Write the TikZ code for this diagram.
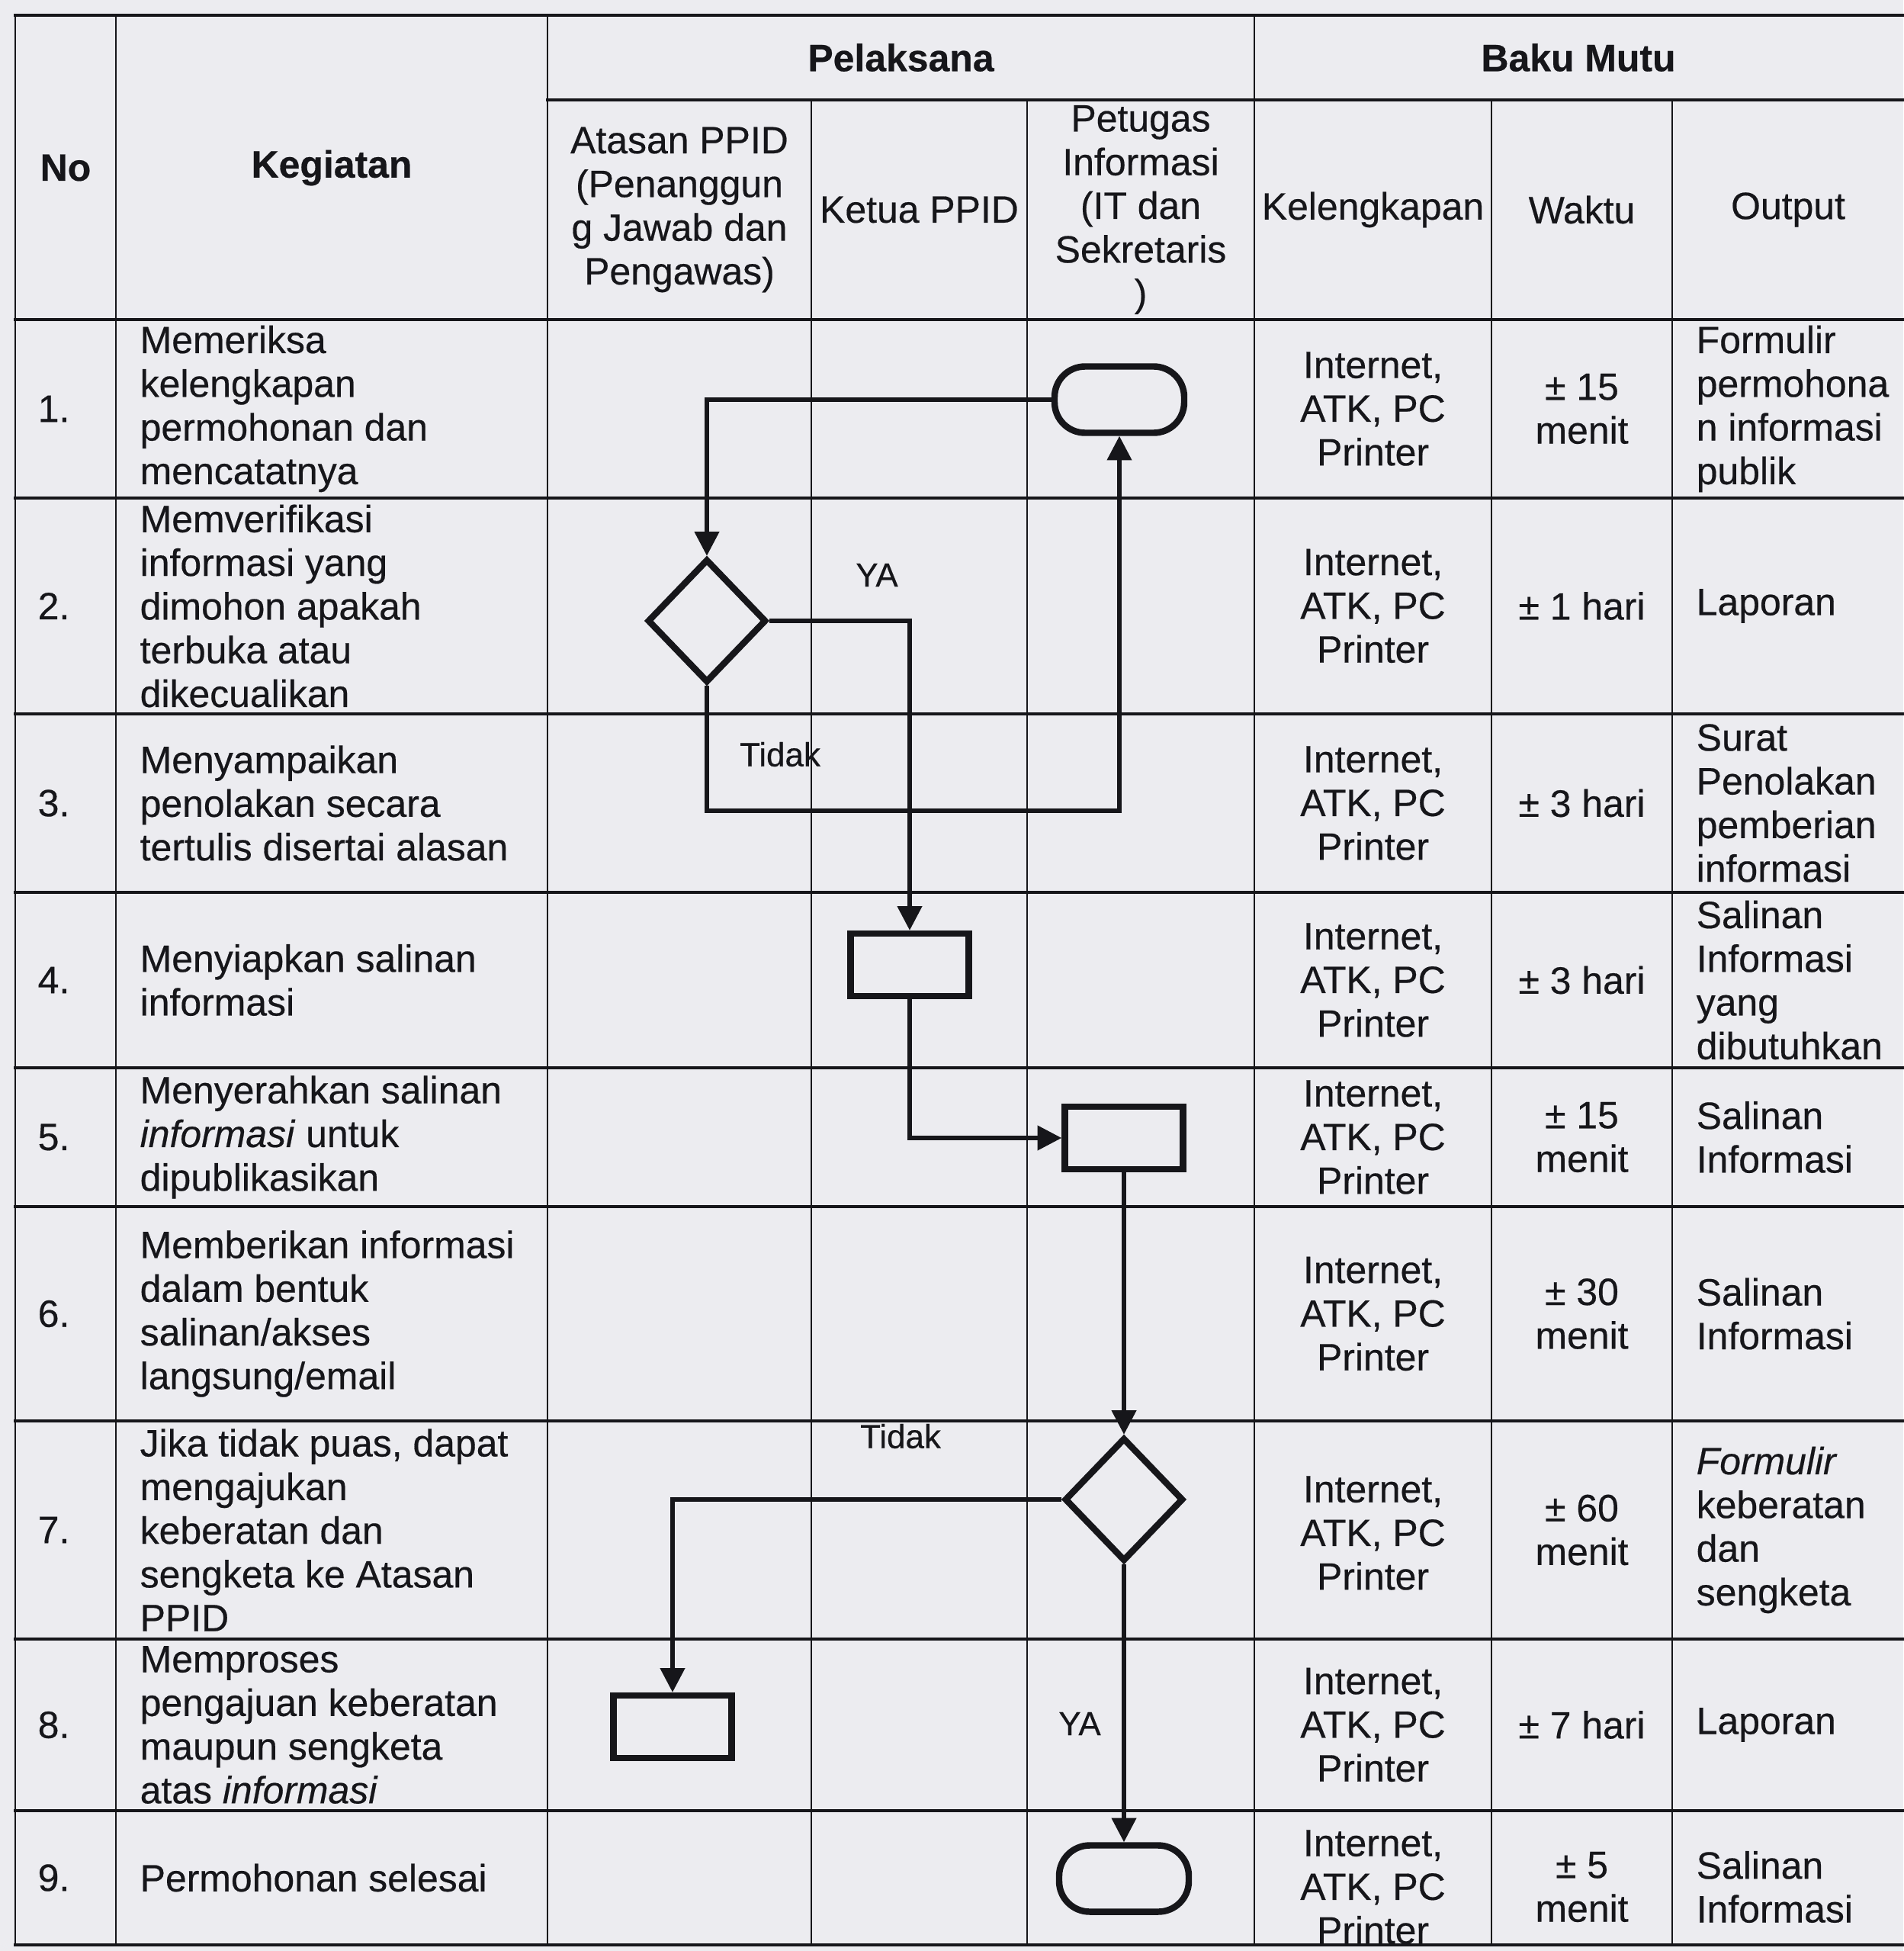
\documentclass[tikz,border=0pt]{standalone}
\usepackage{fontspec}
\setmainfont{Liberation Sans}[FakeBold=0.4]
\usetikzlibrary{arrows.meta,shapes.geometric,positioning}
\definecolor{paper}{RGB}{236,236,240}
\definecolor{ink}{RGB}{22,22,26}

\begin{document}
\begin{tikzpicture}[
  txt/.style={
    font=\fontsize{14.2}{16.3}\selectfont,
    inner sep=0pt,
    text=ink
  },
  hdr/.style={txt,align=center},
  bold/.style={txt,font=\fontsize{14.2}{16.3}\selectfont\bfseries},
  nomor/.style={txt,anchor=west},
  keg/.style={txt,anchor=west,align=left},
  mid/.style={txt,align=center},
  outp/.style={txt,anchor=west,align=left},
  hrule/.style={draw=ink,line width=1.2pt,line cap=rect},
  vrule/.style={draw=ink,line width=.8pt,line cap=rect},
  term/.style={
    draw=ink,
    line width=2.4pt,
    rounded corners=.4cm,
    minimum width=1.7cm,
    minimum height=.87cm
  },
  proc/.style={
    draw=ink,
    line width=2.4pt,
    minimum width=1.55cm,
    minimum height=.82cm
  },
  decide/.style={
    diamond,
    draw=ink,
    line width=2.4pt,
    inner sep=0pt,
    minimum width=1.56cm,
    minimum height=1.62cm
  },
  flow/.style={draw=ink,line width=1.5pt,-{Triangle[length=9pt,width=9pt]}},
  lbl/.style={font=\fontsize{12.5}{15}\selectfont,inner sep=0pt,text=ink}
]
\fill[paper] (0,0) rectangle (24.96,-25.58);
\useasboundingbox (0,0) rectangle (24.96,-25.58);

% table rules
\draw[hrule]
  (0.20,-0.20) -- (24.96,-0.20)
  (7.18,-1.31) -- (24.96,-1.31)
  (0.20,-4.19) -- (24.96,-4.19)
  (0.20,-6.53) -- (24.96,-6.53)
  (0.20,-9.36) -- (24.96,-9.36)
  (0.20,-11.70) -- (24.96,-11.70)
  (0.20,-14.00) -- (24.96,-14.00)
  (0.20,-15.82) -- (24.96,-15.82)
  (0.20,-18.63) -- (24.96,-18.63)
  (0.20,-21.49) -- (24.96,-21.49)
  (0.20,-23.74) -- (24.96,-23.74)
  (0.20,-25.50) -- (24.96,-25.50);
\draw[vrule]
  (0.20,-0.20) -- (0.20,-25.50)
  (1.52,-0.20) -- (1.52,-25.50)
  (7.18,-0.20) -- (7.18,-25.50)
  (10.64,-1.31) -- (10.64,-25.50)
  (13.47,-1.31) -- (13.47,-25.50)
  (16.45,-0.20) -- (16.45,-25.50)
  (19.56,-1.31) -- (19.56,-25.50)
  (21.93,-1.31) -- (21.93,-25.50);

% header
\node[bold] (hno) at (0.86,-2.20) {No};
\node[bold] (hkeg) at (4.35,-2.20) {Kegiatan};
\node[bold] (hpel) at (11.815,-0.755) {Pelaksana};
\node[bold] (hbaku) at (20.70,-0.755) {Baku Mutu};
\node[hdr] (hatasan) at (8.91,-2.75)
  {Atasan PPID\\(Penanggun\\g Jawab dan\\Pengawas)};
\node[hdr] (hketua) at (12.055,-2.75) {Ketua PPID};
\node[hdr] (hpetugas) at (14.96,-2.75)
  {Petugas\\Informasi\\(IT dan\\Sekretaris\\)};
\node[hdr] (hkel) at (18.005,-2.75) {Kelengkapan};
\node[hdr] (hwaktu) at (20.745,-2.75) {Waktu};
\node[hdr] (houtput) at (23.45,-2.75) {Output};

% row 1
\node[nomor] (no1) at (0.49,-5.36) {1.};
\node[keg] (keg1) at (1.83,-5.36)
  {Memeriksa\\kelengkapan\\permohonan dan\\mencatatnya};
\node[mid] (kel1) at (18.005,-5.36) {Internet,\\ATK, PC\\Printer};
\node[mid] (wkt1) at (20.745,-5.36) {± 15\\menit};
\node[outp] (out1) at (22.24,-5.36)
  {Formulir\\permohona\\n informasi\\publik};

% row 2
\node[nomor] (no2) at (0.49,-7.945) {2.};
\node[keg] (keg2) at (1.83,-7.945)
  {Memverifikasi\\informasi yang\\dimohon apakah\\terbuka atau\\dikecualikan};
\node[mid] (kel2) at (18.005,-7.945) {Internet,\\ATK, PC\\Printer};
\node[mid] (wkt2) at (20.745,-7.945) {± 1 hari};
\node[outp] (out2) at (22.24,-7.945) {Laporan};

% row 3
\node[nomor] (no3) at (0.49,-10.53) {3.};
\node[keg] (keg3) at (1.83,-10.53)
  {Menyampaikan\\penolakan secara\\tertulis disertai alasan};
\node[mid] (kel3) at (18.005,-10.53) {Internet,\\ATK, PC\\Printer};
\node[mid] (wkt3) at (20.745,-10.53) {± 3 hari};
\node[outp] (out3) at (22.24,-10.53)
  {Surat\\Penolakan\\pemberian\\informasi};

% row 4
\node[nomor] (no4) at (0.49,-12.85) {4.};
\node[keg] (keg4) at (1.83,-12.85) {Menyiapkan salinan\\informasi};
\node[mid] (kel4) at (18.005,-12.85) {Internet,\\ATK, PC\\Printer};
\node[mid] (wkt4) at (20.745,-12.85) {± 3 hari};
\node[outp] (out4) at (22.24,-12.85)
  {Salinan\\Informasi\\yang\\dibutuhkan};

% row 5
\node[nomor] (no5) at (0.49,-14.91) {5.};
\node[keg] (keg5) at (1.83,-14.91)
  {Menyerahkan salinan\\\textit{informasi} untuk\\dipublikasikan};
\node[mid] (kel5) at (18.005,-14.91) {Internet,\\ATK, PC\\Printer};
\node[mid] (wkt5) at (20.745,-14.91) {± 15\\menit};
\node[outp] (out5) at (22.24,-14.91) {Salinan\\Informasi};

% row 6
\node[nomor] (no6) at (0.49,-17.225) {6.};
\node[keg] (keg6) at (1.83,-17.225)
  {Memberikan informasi\\dalam bentuk\\salinan/akses\\langsung/email};
\node[mid] (kel6) at (18.005,-17.225) {Internet,\\ATK, PC\\Printer};
\node[mid] (wkt6) at (20.745,-17.225) {± 30\\menit};
\node[outp] (out6) at (22.24,-17.225) {Salinan\\Informasi};

% row 7
\node[nomor] (no7) at (0.49,-20.06) {7.};
\node[keg] (keg7) at (1.83,-20.06)
  {Jika tidak puas, dapat\\mengajukan\\keberatan dan\\sengketa ke Atasan\\PPID};
\node[mid] (kel7) at (18.005,-20.10) {Internet,\\ATK, PC\\Printer};
\node[mid] (wkt7) at (20.745,-20.06) {± 60\\menit};
\node[outp] (out7) at (22.24,-20.06)
  {\textit{Formulir}\\keberatan\\dan\\sengketa};

% row 8
\node[nomor] (no8) at (0.49,-22.615) {8.};
\node[keg] (keg8) at (1.83,-22.615)
  {Memproses\\pengajuan keberatan\\maupun sengketa\\atas \textit{informasi}};
\node[mid] (kel8) at (18.005,-22.615) {Internet,\\ATK, PC\\Printer};
\node[mid] (wkt8) at (20.745,-22.615) {± 7 hari};
\node[outp] (out8) at (22.24,-22.615) {Laporan};

% row 9
\node[nomor] (no9) at (0.49,-24.62) {9.};
\node[keg] (keg9) at (1.83,-24.62) {Permohonan selesai};
\node[mid] (kel9) at (18.005,-24.74) {Internet,\\ATK, PC\\Printer};
\node[mid] (wkt9) at (20.745,-24.74) {± 5\\menit};
\node[outp] (out9) at (22.24,-24.74) {Salinan\\Informasi};

% flow shapes
\node[term] (t1) at (14.68,-5.24) {};
\node[decide] (d2) at (9.27,-8.14) {};
\node[proc] (r4) at (11.93,-12.65) {};
\node[proc] (r5) at (14.74,-14.92) {};
\node[decide] (d7) at (14.74,-19.66) {};
\node[proc] (r8) at (8.82,-22.64) {};
\node[term] (t9) at (14.74,-24.63) {};

\coordinate (tdk1) at (9.27,-10.63);

\draw[flow] (t1.west) -| (d2.north);
\draw[flow] (d2.east) -| (r4.north);
\draw[flow] (d2.south) -- (tdk1) -| (t1.south);
\draw[flow] (r4.south) |- (r5.west);
\draw[flow] (r5.south) -- (d7.north);
\draw[flow] (d7.west) -| (r8.north);
\draw[flow] (d7.south) -- (t9.north);

\node[lbl] (ya1) at (11.50,-7.54) {YA};
\node[lbl] (tidak1) at (10.23,-9.89) {Tidak};
\node[lbl] (tidak2) at (11.81,-18.83) {Tidak};
\node[lbl] (ya2) at (14.16,-22.60) {YA};
\end{tikzpicture}
\end{document}
